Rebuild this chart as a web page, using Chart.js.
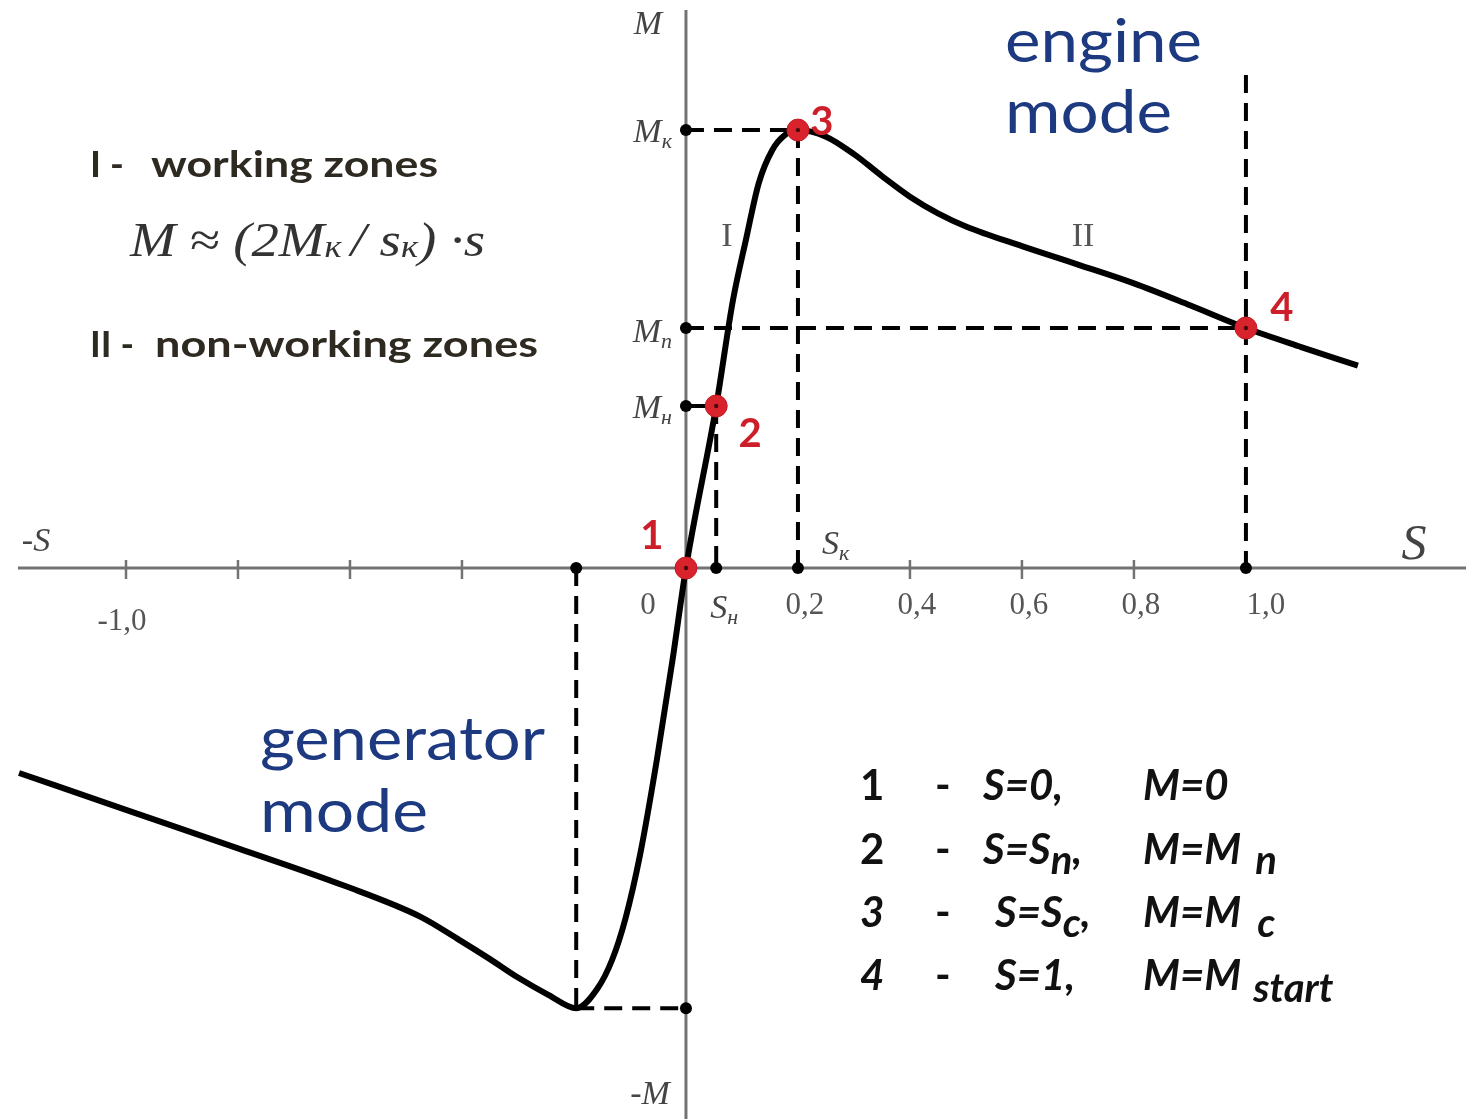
<!DOCTYPE html>
<html>
<head>
<meta charset="utf-8">
<title>Torque–slip characteristic</title>
<script src="https://cdn.jsdelivr.net/npm/chart.js@4.4.1/dist/chart.umd.min.js"></script>
<style>
  html, body { margin: 0; padding: 0; background: #fff; }
  canvas { display: block; }
</style>
</head>
<body>
<canvas id="chart" width="1466" height="1119"></canvas>
<script>
// torque-slip curve of the induction machine (M in units of Mк)
const slip = [-1.191, -1.0, -0.8, -0.611, -0.473, -0.405, -0.35, -0.30, -0.245, -0.196,
              -0.158, -0.132, -0.108, -0.082, -0.052, -0.024, 0, 0.054, 0.084, 0.107,
              0.130, 0.154, 0.177, 0.2, 0.25, 0.3, 0.35, 0.4, 0.45, 0.5, 0.6, 0.7,
              0.8, 0.9, 1.0, 1.1, 1.2];
const torque = [-0.468, -0.552, -0.640, -0.725, -0.797, -0.849, -0.893, -0.935, -0.975, -1.005,
                -0.960, -0.895, -0.800, -0.655, -0.438, -0.210, 0, 0.37, 0.612, 0.749,
                0.879, 0.954, 0.989, 1.0, 0.985, 0.945, 0.895, 0.848, 0.810, 0.780, 0.735, 0.693,
                0.650, 0.600, 0.548, 0.504, 0.462];

// numbered operating points 1..4
const keySlip = [0, 0.054, 0.2, 1.0];
const keyTorque = [0, 0.37, 1.0, 0.548];
const keyLabels = ['1', '2', '3', '4'];

// generator breakdown point
const genSlip = -0.196;
const genTorque = -1.005;

// x axis ticks
const minorTicks = [-1.0, -0.8, -0.6, -0.4, 0.4, 0.6, 0.8];
const tickValues = [-1.0, 0, 0.2, 0.4, 0.6, 0.8, 1.0];
const tickLabels = ['-1,0', '0', '0,2', '0,4', '0,6', '0,8', '1,0'];

const sN = keySlip[1], mN = keyTorque[1];
const sK = keySlip[2], mK = keyTorque[2];
const sStart = keySlip[3], mStart = keyTorque[3];

const pt = (x, y) => ({ x, y });
const curve = slip.map((s, i) => pt(s, torque[i]));
const keyPoints = keySlip.map((s, i) => pt(s, keyTorque[i]));

const guides = [
  [pt(0, mK), pt(sK, mK)],
  [pt(sK, mK), pt(sK, 0)],
  [pt(0, mStart), pt(sStart, mStart)],
  [pt(sStart, 1.126), pt(sStart, 0)],
  [pt(sN, mN), pt(sN, 0)],
  [pt(genSlip, 0), pt(genSlip, genTorque)],
  [pt(genSlip, genTorque), pt(0, genTorque)]
];
const axisDots = [pt(0, mK), pt(sK, 0), pt(0, mStart), pt(sStart, 0),
                  pt(0, mN), pt(sN, 0), pt(genSlip, 0), pt(0, genTorque)];

const serif = '"Liberation Serif", "DejaVu Serif", serif';
const sans = 'Lato, "Open Sans", sans-serif';

const runsWidth = (ctx, runs) => runs.reduce((w, r) => {
  ctx.font = r.font;
  return w + ctx.measureText(r.t).width + (r.gap || 0);
}, 0);

const drawRuns = (ctx, x, y, runs, color) => {
  ctx.fillStyle = color;
  ctx.textAlign = 'left';
  ctx.textBaseline = 'alphabetic';
  for (const r of runs) {
    ctx.font = r.font;
    ctx.fillText(r.t, x, y + (r.dy || 0));
    x += ctx.measureText(r.t).width + (r.gap || 0);
  }
  return x;
};

// draw a string (or runs) stretched to a given width
const fitRuns = (ctx, runs, x, y, width, color) => {
  ctx.save();
  const w = runsWidth(ctx, runs);
  ctx.translate(x, y);
  ctx.scale(width / w, 1);
  drawRuns(ctx, 0, 0, runs, color);
  ctx.restore();
};
const fitText = (ctx, text, x, y, width, font, color) => fitRuns(ctx, [{ t: text, font }], x, y, width, color);

const axesPlugin = {
  id: 'axes',
  beforeDatasetsDraw(chart) {
    const { ctx, scales: { x, y } } = chart;
    const ox = x.getPixelForValue(0), oy = y.getPixelForValue(0);
    ctx.save();
    ctx.strokeStyle = '#737373';
    ctx.lineWidth = 3;
    ctx.beginPath();
    ctx.moveTo(x.getPixelForValue(-1.193), oy);
    ctx.lineTo(chart.width, oy);
    ctx.moveTo(ox, y.getPixelForValue(1.274));
    ctx.lineTo(ox, chart.height);
    ctx.stroke();
    ctx.lineWidth = 2.5;
    ctx.beginPath();
    for (const v of minorTicks) {
      const px = x.getPixelForValue(v);
      ctx.moveTo(px, oy - 8);
      ctx.lineTo(px, oy + 11);
    }
    ctx.stroke();
    ctx.restore();
  }
};

const textPlugin = {
  id: 'texts',
  afterDatasetsDraw(chart) {
    const { ctx, scales: { x, y } } = chart;
    const ox = x.getPixelForValue(0), oy = y.getPixelForValue(0);
    const grey = '#444';
    ctx.save();

    // tick labels
    ctx.font = '31px ' + serif;
    ctx.fillStyle = '#555';
    ctx.textAlign = 'center';
    ctx.textBaseline = 'middle';
    tickValues.forEach((v, i) => {
      let dx = v < 0 ? -4 : 7;
      if (v === 1.0) dx = 20;
      if (v === 0) dx = -38;
      const dy = v < 0 ? 16 : 0;
      ctx.fillText(tickLabels[i], x.getPixelForValue(v) + dx, oy + 38 + dy);
    });

    // axis names
    const it = sz => 'italic ' + sz + 'px ' + serif;
    ctx.fillStyle = grey;
    ctx.textAlign = 'center';
    ctx.font = it(34);
    ctx.fillText('M', ox - 38, 25);
    ctx.fillText('-M', ox - 36, 1095);
    ctx.fillText('-S', 36, oy - 26);
    ctx.font = it(50);
    ctx.fillText('S', 1414, oy - 22);

    // symbols on the axes
    const sym = (main, sub, px, py, align) => {
      const runs = [{ t: main, font: it(34) }, { t: sub, font: it(22), dy: 6 }];
      const x0 = align === 'right' ? px - runsWidth(ctx, runs) : px;
      drawRuns(ctx, x0, py, runs, grey);
    };
    sym('M', 'к', ox - 14, y.getPixelForValue(mK) + 12, 'right');
    sym('M', 'п', ox - 14, y.getPixelForValue(mStart) + 14, 'right');
    sym('M', 'н', ox - 14, y.getPixelForValue(mN) + 12, 'right');
    sym('S', 'к', x.getPixelForValue(sK) + 24, oy - 14, 'left');
    sym('S', 'н', x.getPixelForValue(sN) - 6, oy + 50, 'left');

    // zone numerals
    ctx.font = '34px ' + serif;
    ctx.fillStyle = '#555';
    ctx.textAlign = 'center';
    ctx.textBaseline = 'alphabetic';
    ctx.fillText('I', 727, 246);
    ctx.fillText('II', 1083, 246);

    // point numbers
    ctx.font = 'bold 40px ' + sans;
    ctx.fillStyle = '#cc1f29';
    ctx.textBaseline = 'middle';
    const offs = [[-34, -32], [34, 28], [24, -8], [36, -20]];
    keyPoints.forEach((p, i) => {
      ctx.fillText(keyLabels[i], x.getPixelForValue(p.x) + offs[i][0], y.getPixelForValue(p.y) + offs[i][1]);
    });

    // mode captions
    const blue = '#1d3a80';
    const blueFont = '60px ' + sans;
    fitText(ctx, 'engine', 1005, 62, 197, blueFont, blue);
    fitText(ctx, 'mode', 1005, 133, 167, blueFont, blue);
    fitText(ctx, 'generator', 260, 760, 285, blueFont, blue);
    fitText(ctx, 'mode', 260, 832, 168, blueFont, blue);

    // zone notes
    const dark = '#2e2a22';
    const boldFont = 'bold 36px ' + sans;
    fitText(ctx, 'I -', 90, 177, 34, boldFont, dark);
    fitText(ctx, 'working zones', 151, 177, 287, boldFont, dark);
    fitText(ctx, 'II -', 90, 357, 44, boldFont, dark);
    fitText(ctx, 'non-working zones', 155, 357, 383, boldFont, dark);

    // approximation in zone I
    fitRuns(ctx, [
      { t: 'M ≈ (2M', font: it(48) },
      { t: 'к', font: it(32), dy: 1, gap: 8 },
      { t: '/ s', font: it(48) },
      { t: 'к', font: it(32), dy: 1 },
      { t: ') ·s', font: it(48) }
    ], 130, 256, 355, '#333');

    // list of operating points
    const b = 'bold 42px ' + sans;
    const bi = 'italic bold 42px ' + sans;
    const sub = 'italic bold 40px ' + sans;
    const rows = [
      { n: '1', f: b, y: 800, s: [{ t: 'S=0,', font: bi }], sx: 983, m: [{ t: 'M=0', font: bi }] },
      { n: '2', f: b, y: 864, s: [{ t: 'S=S', font: bi }, { t: 'n', font: sub, dy: 10 }, { t: ',', font: bi }], sx: 983,
        m: [{ t: 'M=M', font: bi, gap: 14 }, { t: 'n', font: sub, dy: 10 }] },
      { n: '3', f: bi, y: 927, s: [{ t: 'S=S', font: bi }, { t: 'c', font: sub, dy: 10 }, { t: ',', font: bi }], sx: 995,
        m: [{ t: 'M=M', font: bi, gap: 16 }, { t: 'c', font: sub, dy: 10 }] },
      { n: '4', f: bi, y: 990, s: [{ t: 'S=1,', font: bi }], sx: 995,
        m: [{ t: 'M=M', font: bi, gap: 12 }, { t: 'start', font: sub, dy: 12 }] }
    ];
    for (const r of rows) {
      drawRuns(ctx, 860, r.y, [{ t: r.n, font: r.f }], '#111');
      drawRuns(ctx, 935, r.y, [{ t: '-', font: b }], '#111');
      drawRuns(ctx, r.sx, r.y, r.s, '#111');
      drawRuns(ctx, 1143, r.y, r.m, '#111');
    }

    ctx.restore();
  }
};

const dash = [18, 10];
const datasets = [
  {
    label: 'point centres',
    data: keyPoints,
    pointRadius: 2.2,
    pointBackgroundColor: '#4a0a0a',
    pointBorderWidth: 0,
    showLine: false,
    order: 0
  },
  {
    label: 'operating points',
    data: keyPoints,
    pointRadius: 11,
    pointBackgroundColor: '#d8222c',
    pointBorderColor: '#c41c26',
    pointBorderWidth: 1,
    showLine: false,
    order: 1
  },
  {
    label: 'axis marks',
    data: axisDots,
    pointRadius: 6,
    pointBackgroundColor: '#000',
    pointBorderWidth: 0,
    showLine: false,
    order: 2
  },
  {
    label: 'M = f(s)',
    data: curve,
    showLine: true,
    borderColor: '#000',
    borderWidth: 6,
    pointRadius: 0,
    cubicInterpolationMode: 'monotone',
    order: 3
  },
  {
    label: 'Mн marker',
    data: [pt(0, mN), pt(sN, mN)],
    showLine: true,
    borderColor: '#000',
    borderWidth: 4,
    pointRadius: 0,
    order: 4
  },
  ...guides.map((g, i) => ({
    label: 'guide ' + i,
    data: g,
    showLine: true,
    borderColor: '#000',
    borderWidth: 4,
    borderDash: dash,
    pointRadius: 0,
    order: 5
  }))
];

new Chart(document.getElementById('chart'), {
  type: 'scatter',
  data: { datasets },
  options: {
    responsive: false,
    animation: false,
    events: [],
    layout: { padding: 0, autoPadding: false },
    plugins: { legend: { display: false }, tooltip: { enabled: false } },
    scales: {
      x: { type: 'linear', min: -1.225, max: 1.393, display: false },
      y: { type: 'linear', min: -1.258, max: 1.297, display: false }
    }
  },
  plugins: [axesPlugin, textPlugin]
});
</script>
</body>
</html>
